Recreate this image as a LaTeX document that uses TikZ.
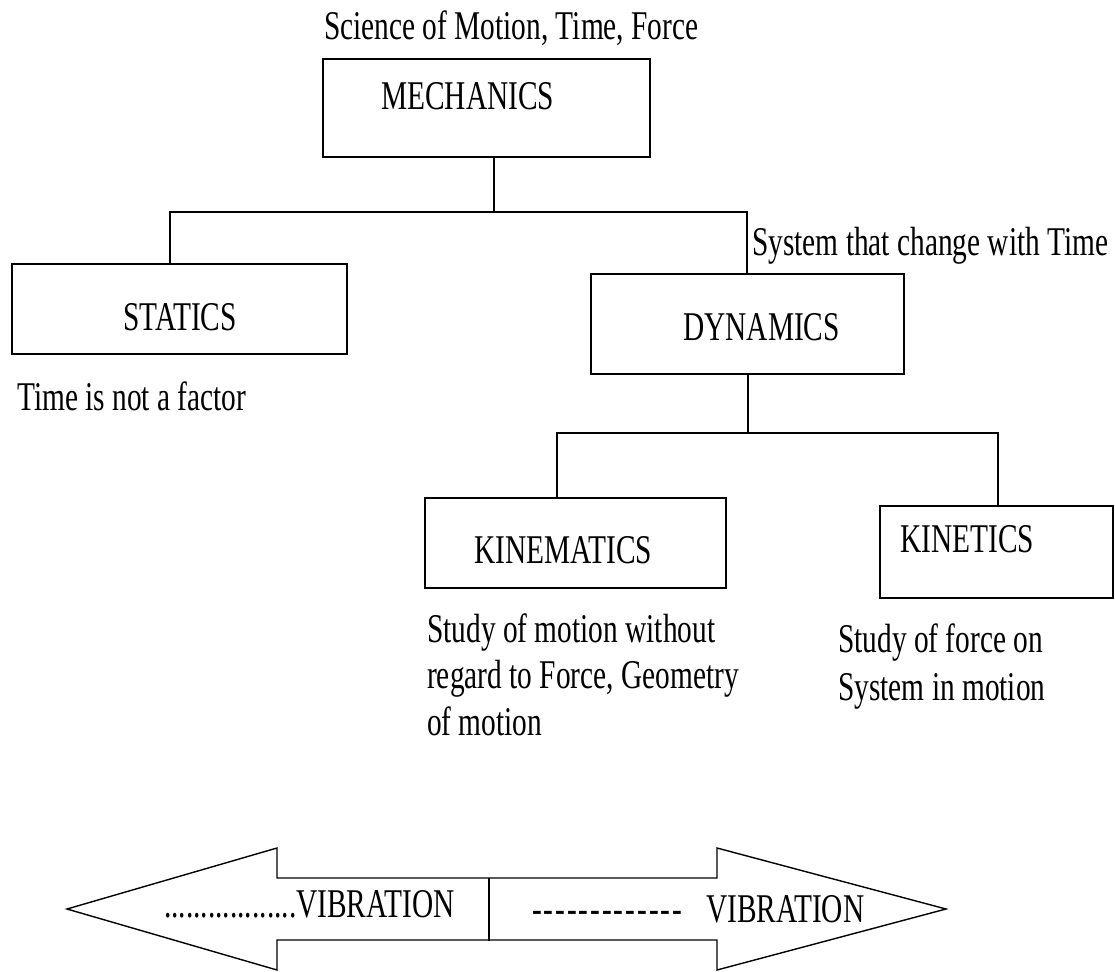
\documentclass[tikz,border=0pt]{standalone}
\usepackage{fontspec}
\setmainfont{Liberation Serif}[FakeStretch=0.72]
\newcommand\hyph{-\kern1.9pt\relax}
\newcommand\hyphrow{\hyph\hyph\hyph\hyph\hyph\hyph\hyph\hyph\hyph\hyph\hyph\hyph\hyph}
\begin{document}
\begin{tikzpicture}[x=1pt,y=-1pt,
  box/.style={draw, line width=1.8pt, inner sep=0pt, anchor=north west},
  lbl/.style={anchor=base west, inner sep=0pt, font=\fontsize{40.8}{47}\selectfont},
  conn/.style={line width=1.7pt},
  arr/.style={line width=1.4pt, line join=miter}]

\useasboundingbox (0,0) rectangle (1115,971);
\fill[white] (0,0) rectangle (1115,971);

% boxes of the hierarchy
\node[box, minimum width=327pt, minimum height=98pt]  (mech)  at (322,58)  {};
\node[box, minimum width=335pt, minimum height=90pt]  (stat)  at (11,263)  {};
\node[box, minimum width=313pt, minimum height=100pt] (dyn)   at (590,273) {};
\node[box, minimum width=301pt, minimum height=90pt]  (kinem) at (424,497) {};
\node[box, minimum width=233pt, minimum height=92pt]  (kinet) at (879,505) {};

% titles and notes
\node[lbl] (sci)      at (324,40)  {Science of Motion, Time, Force};
\node[lbl] (mech-t)   at (381,110) {MECHANICS};
\node[lbl] (stat-t)   at (123,330) {STATICS};
\node[lbl] (stat-n)   at (17,410)  {Time is not a factor};
\node[lbl] (dyn-n)    at (752,255) {System that change with Time};
\node[lbl] (dyn-t)    at (683,340) {DYNAMICS};
\node[lbl] (kinem-t)  at (474,563) {KINEMATICS};
\node[lbl] (kinet-t)  at (900,552) {KINETICS};
\node[lbl] (kinem-n1) at (427,642) {Study of motion without};
\node[lbl] (kinem-n2) at (427,688) {regard to Force, Geometry};
\node[lbl] (kinem-n3) at (427,735) {of motion};
\node[lbl] (kinet-n1) at (838,652) {Study of force on};
\node[lbl] (kinet-n2) at (838,700) {System in motion};

% tree connectors
\coordinate (j1) at (494,212);
\draw[conn] (mech.south -| j1) -- (j1);
\draw[conn] (j1) -| ([xshift=-9.5pt]stat.north);
\draw[conn] (j1) -| ([xshift=-0.5pt]dyn.north);
\coordinate (j2) at (748,433);
\draw[conn] (dyn.south -| j2) -- (j2);
\draw[conn] (j2) -| ([xshift=-18.5pt]kinem.north);
\draw[conn] (j2) -| ([xshift=1.5pt]kinet.north);

% double block arrow
\draw[arr] (489,878) -- (277,878) -- (277,848) -- (67,909) -- (277,970) -- (277,940) -- (489,940);
\draw[arr] (489,878) -- (717,878) -- (717,848) -- (946,909) -- (717,970) -- (717,940) -- (489,940);
\draw[line width=2pt] (489,878) -- (489,941);

\node[lbl] (vib-l) at (164,917) {..................VIBRATION};
\node[lbl] (vib-r) at (532,922) {\hyphrow\kern22pt VIBRATION};
\end{tikzpicture}
\end{document}
